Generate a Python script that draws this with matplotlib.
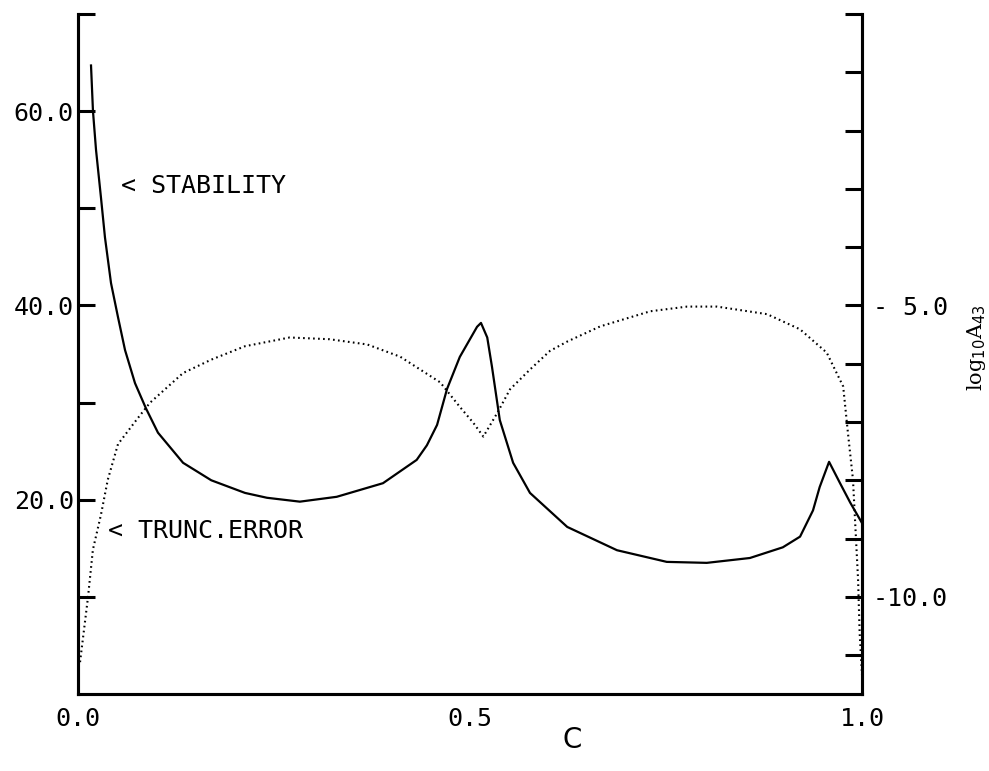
import matplotlib
matplotlib.use("Agg")
import matplotlib.pyplot as plt

# Stability (left axis)
stab_c = [0.0166, 0.0191, 0.023, 0.0293, 0.0344, 0.0421, 0.051, 0.060, 0.0727, 0.0867,
          0.102, 0.134, 0.170, 0.213, 0.241, 0.283, 0.330, 0.389, 0.432, 0.445,
          0.458, 0.4707, 0.487, 0.509, 0.514, 0.522, 0.528, 0.538, 0.555, 0.5765,
          0.624, 0.6875, 0.751, 0.802, 0.857, 0.899, 0.921, 0.9375, 0.946, 0.958,
          0.972, 0.985, 1.0]
stab_v = [64.7, 60.0, 56.0, 51.1, 47.0, 42.3, 38.8, 35.4, 32.0, 29.4,
          26.9, 23.8, 22.0, 20.7, 20.2, 19.8, 20.3, 21.7, 24.1, 25.6,
          27.7, 31.4, 34.7, 37.8, 38.2, 36.7, 33.7, 28.2, 23.8, 20.7,
          17.2, 14.8, 13.6, 13.5, 14.0, 15.1, 16.2, 18.9, 21.3, 23.9,
          21.7, 19.7, 17.6]

# Truncation error (right axis, log10 A43)
trunc_c = [0.0026, 0.0128, 0.019, 0.024, 0.0293, 0.038, 0.051, 0.0765, 0.0918, 0.134,
           0.170, 0.213, 0.270, 0.321, 0.369, 0.411, 0.462, 0.487, 0.504, 0.517,
           0.535, 0.551, 0.5765, 0.602, 0.624, 0.666, 0.730, 0.777, 0.815, 0.879,
           0.921, 0.955, 0.976, 0.982, 0.9885, 0.995, 0.997, 1.0]
trunc_v = [-11.12, -10.0, -9.19, -8.90, -8.59, -7.99, -7.38, -6.93, -6.67, -6.16,
           -5.93, -5.70, -5.55, -5.58, -5.67, -5.88, -6.32, -6.74, -7.01, -7.25,
           -6.84, -6.44, -6.10, -5.78, -5.62, -5.36, -5.10, -5.02, -5.02, -5.15,
           -5.41, -5.81, -6.39, -7.18, -7.99, -9.71, -10.62, -11.34]

left_ticks = [10, 20, 30, 40, 50, 60, 70]
left_labels = ["", "20.0", "", "40.0", "", "60.0", ""]
right_ticks = [-11, -10, -9, -8, -7, -6, -5, -4, -3, -2, -1, 0]
right_labels = ["", "-10.0", "", "", "", "", "- 5.0", "", "", "", "", ""]
x_ticks = [0.0, 0.5, 1.0]
x_labels = ["0.0", "0.5", "1.0"]

mono = "DejaVu Sans Mono"
plt.rcParams["font.family"] = mono

fig = plt.figure(figsize=(9.89, 7.71), dpi=100)
ax = fig.add_axes([78/989, 1-694/771, (862-78)/989, (694-14)/771])
ax2 = ax.twinx()

ax.plot(stab_c, stab_v, color="black", lw=1.6, solid_joinstyle="round")
ax2.plot(trunc_c, trunc_v, color="black", lw=1.5, linestyle=(0, (0.8, 1.6)))

ax.set_xlim(0, 1.0)
ax.set_ylim(0, 70)
ax2.set_ylim(-70/6, 0)

for a in (ax, ax2):
    a.spines["top"].set_visible(False)
    for s in a.spines.values():
        s.set_linewidth(2.2)

ax.set_xticks(x_ticks)
ax.set_xticklabels(x_labels, fontsize=18)
ax.tick_params(axis="x", length=0, pad=9)

ax.set_yticks(left_ticks)
ax.set_yticklabels(left_labels, fontsize=18)
ax.tick_params(axis="y", direction="in", length=12, width=2.2, pad=3)

ax2.set_yticks(right_ticks)
ax2.set_yticklabels(right_labels, fontsize=18)
ax2.tick_params(axis="y", direction="in", length=12, width=2.2, pad=8)

ax.text(0.055, 52.3, "< STABILITY", fontsize=18, ha="left", va="center")
ax.text(0.038, 16.8, "< TRUNC.ERROR", fontsize=18, ha="left", va="center")

fig.text(572/989, 1-740/771, "C", fontsize=20, ha="center", va="center",
         family="DejaVu Sans")
fig.text(977/989, 1-348/771, r"log$_{10}$A$_{43}$", fontsize=15, rotation=90,
         ha="center", va="center", family="DejaVu Serif")

fig.savefig("out.png", dpi=100, facecolor="white")
